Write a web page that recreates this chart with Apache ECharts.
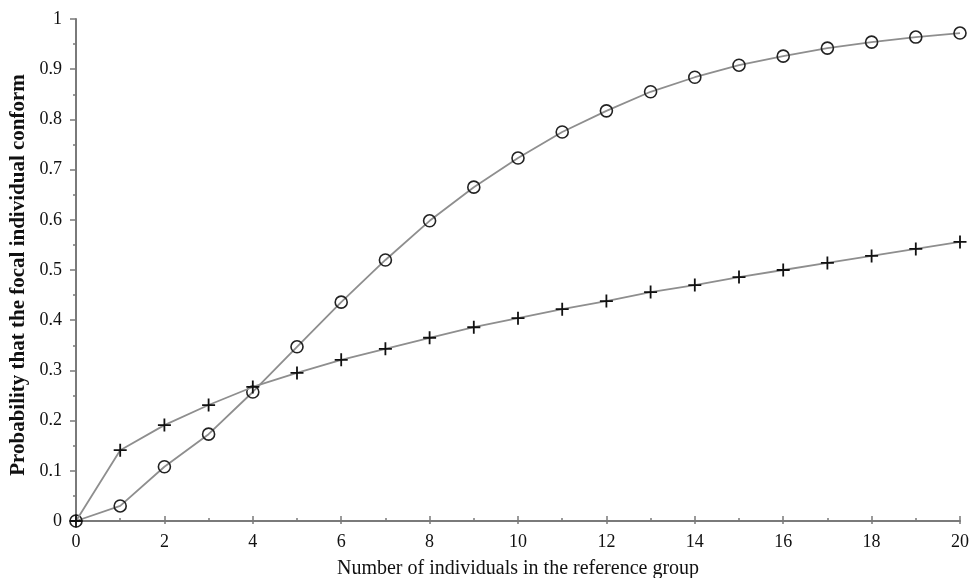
<!DOCTYPE html>
<html lang="en">
<head>
    <meta charset="UTF-8">
    <title>conform</title>
    <style>
        html, body { margin: 0; padding: 0; background: #fff; }
        #main { width: 970px; height: 578px; }
    </style>
    <script src="https://cdn.jsdelivr.net/npm/echarts@6/dist/echarts.min.js"></script>
</head>
<body>
    <div id="main"></div>
    <script>
        var groupSize = [0, 1, 2, 3, 4, 5, 6, 7, 8, 9, 10, 11, 12, 13, 14, 15, 16, 17, 18, 19, 20];
        var circleSeries = [0, 0.030, 0.108, 0.173, 0.257, 0.347, 0.436, 0.520, 0.598, 0.665, 0.723,
            0.775, 0.817, 0.855, 0.884, 0.908, 0.926, 0.942, 0.954, 0.964, 0.972];
        var crossSeries = [0, 0.141, 0.191, 0.231, 0.267, 0.295, 0.321, 0.343, 0.365, 0.386, 0.404,
            0.422, 0.438, 0.456, 0.470, 0.486, 0.500, 0.514, 0.528, 0.542, 0.556];

        var font = 'Liberation Serif';
        var axisGray = '#7a7a7a';
        var lineGray = '#8e8e8e';
        var crossPath = 'path://M5,0L5,10M0,5L10,5';

        function pairs(vals) {
            return groupSize.map(function (x, i) { return [x, vals[i]]; });
        }

        var chart = echarts.init(document.getElementById('main'));
        chart.setOption({
            animation: false,
            backgroundColor: '#fff',
            grid: { left: 76, right: 10, top: 19, bottom: 57, containLabel: false, outerBoundsMode: 'none' },
            xAxis: [{
                type: 'value', min: 0, max: 20, interval: 2,
                name: 'Number of individuals in the reference group',
                nameLocation: 'middle', nameGap: 38,
                nameTextStyle: { fontFamily: font, fontSize: 20, color: '#111' },
                axisLine: { onZero: false, lineStyle: { color: axisGray, width: 2 } },
                axisTick: { inside: true, length: 5, lineStyle: { color: axisGray, width: 1.5 } },
                minorTick: { show: true, splitNumber: 2, length: 3, lineStyle: { color: axisGray, width: 1.5 } },
                axisLabel: { fontFamily: font, fontSize: 18, color: '#111', margin: 12 },
                splitLine: { show: false }
            }, {
                // short outward ticks below the bottom axis
                type: 'value', min: 0, max: 20, interval: 2, position: 'bottom',
                axisLine: { show: false },
                axisTick: { show: true, length: 3, lineStyle: { color: axisGray, width: 1.5 } },
                axisLabel: { show: false },
                splitLine: { show: false }
            }],
            yAxis: {
                type: 'value', min: 0, max: 1, interval: 0.1,
                name: 'Probability that the focal individual conform',
                nameLocation: 'middle', nameGap: 46,
                nameTextStyle: {
                    fontFamily: font, fontSize: 21, fontWeight: 'bold', color: '#111',
                    padding: [0, 10, 0, 0]
                },
                axisLine: { show: true, onZero: false, lineStyle: { color: axisGray, width: 2 } },
                axisTick: { show: true, length: 6, lineStyle: { color: axisGray, width: 1.5 } },
                minorTick: { show: true, splitNumber: 2, length: 3, lineStyle: { color: axisGray, width: 1.5 } },
                axisLabel: { fontFamily: font, fontSize: 18, color: '#111', margin: 14 },
                splitLine: { show: false }
            },
            series: [{
                name: 'circle',
                type: 'line',
                data: pairs(circleSeries),
                symbol: 'circle',
                symbolSize: 12,
                clip: false,
                lineStyle: { color: lineGray, width: 1.8 },
                itemStyle: { color: 'transparent', borderColor: '#222', borderWidth: 1.6 },
                z: 3
            }, {
                name: 'cross',
                type: 'line',
                data: pairs(crossSeries),
                symbol: crossPath,
                symbolSize: 13,
                clip: false,
                lineStyle: { color: lineGray, width: 1.8 },
                itemStyle: { color: 'none', borderColor: '#111', borderWidth: 1.8 },
                z: 4
            }]
        });
    </script>
</body>
</html>
